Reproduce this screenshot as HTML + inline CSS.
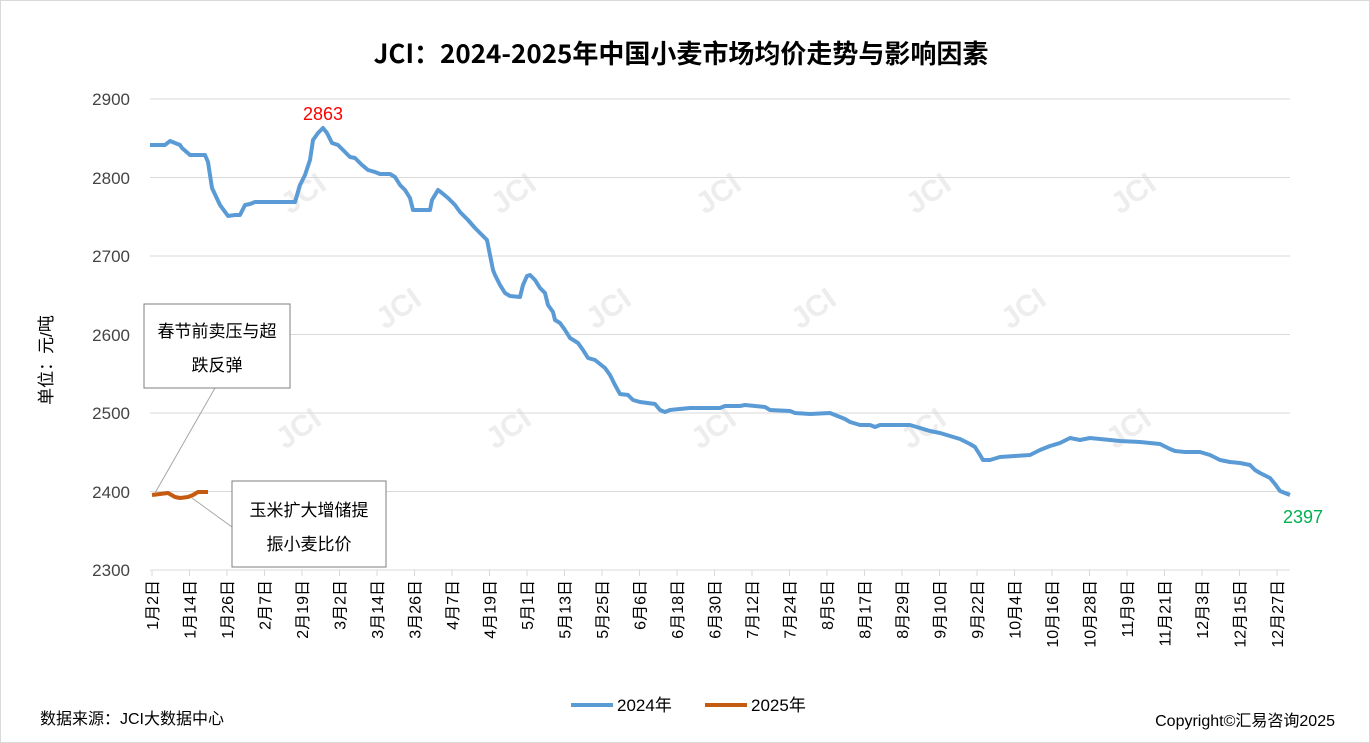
<!DOCTYPE html>
<html><head><meta charset="utf-8"><style>
html,body{margin:0;padding:0;background:#fff}
svg{display:block;font-family:"Liberation Sans","Noto Sans CJK SC",sans-serif}
</style></head><body>
<svg width="1370" height="743" viewBox="0 0 1370 743">
<rect x="0.5" y="0.5" width="1369" height="742" fill="#fff" stroke="#d9d9d9"/>
<text x="681" y="63" text-anchor="middle" font-size="26" font-weight="bold" fill="#000" style="font-family:'Noto Sans CJK SC','Liberation Sans',sans-serif">JCI：2024-2025年中国小麦市场均价走势与影响因素</text>
<g font-size="30" font-weight="bold" fill="#e6e6e6" opacity="0.7">
<g transform="translate(290,215) rotate(-35)"><text>JCI</text></g>
<g transform="translate(500,215) rotate(-35)"><text>JCI</text></g>
<g transform="translate(705,215) rotate(-35)"><text>JCI</text></g>
<g transform="translate(915,215) rotate(-35)"><text>JCI</text></g>
<g transform="translate(1120,215) rotate(-35)"><text>JCI</text></g>
<g transform="translate(385,330) rotate(-35)"><text>JCI</text></g>
<g transform="translate(595,330) rotate(-35)"><text>JCI</text></g>
<g transform="translate(800,330) rotate(-35)"><text>JCI</text></g>
<g transform="translate(1010,330) rotate(-35)"><text>JCI</text></g>
<g transform="translate(285,450) rotate(-35)"><text>JCI</text></g>
<g transform="translate(495,450) rotate(-35)"><text>JCI</text></g>
<g transform="translate(700,450) rotate(-35)"><text>JCI</text></g>
<g transform="translate(910,450) rotate(-35)"><text>JCI</text></g>
<g transform="translate(1115,450) rotate(-35)"><text>JCI</text></g>
</g>
<g stroke="#d9d9d9" stroke-width="1">
<line x1="150" y1="99" x2="1290" y2="99"/><line x1="150" y1="177.5" x2="1290" y2="177.5"/>
<line x1="150" y1="256" x2="1290" y2="256"/><line x1="150" y1="334.5" x2="1290" y2="334.5"/>
<line x1="150" y1="413" x2="1290" y2="413"/><line x1="150" y1="491.5" x2="1290" y2="491.5"/>
<line x1="150" y1="570" x2="1290" y2="570"/>
</g>
<g font-size="17" fill="#444" text-anchor="end">
<text x="130" y="105">2900</text><text x="130" y="184">2800</text><text x="130" y="262">2700</text>
<text x="130" y="341">2600</text><text x="130" y="419">2500</text><text x="130" y="498">2400</text><text x="130" y="576">2300</text>
</g>
<text transform="translate(52,360) rotate(-90)" font-size="17" fill="#000" text-anchor="middle">单位：元/吨</text>
<g id="xl" font-size="16" fill="#000"></g>
<polyline fill="none" stroke="#5b9bd5" stroke-width="4" stroke-linejoin="round" points="150,145 165,145 170,141 175,143 180,145 182,148 190,155 205,155 208,162 212,188 220,205 228,216 235,215 240,215 245,205 250,204 255,202 295,202 300,185 305,175 310,160 313,140 318,133 323,128 327,133 332,143 338,145 345,152 350,157 355,158 362,165 368,170 375,172 380,174 390,174 395,177 400,185 405,190 410,198 413,210 430,210 432,200 438,190 442,193 448,198 455,205 460,212 468,220 475,228 480,233 487,240 490,255 493,270 495,275 500,285 505,293 510,296 520,297 523,285 527,276 530,275 535,280 540,288 545,293 548,305 553,312 555,320 560,323 565,330 570,338 578,343 583,350 588,358 595,360 600,364 605,368 610,375 615,385 620,394 628,395 633,400 640,402 655,404 660,410 665,412 670,410 690,408 720,408 725,406 740,406 745,405 765,407 770,410 790,411 795,413 810,414 830,413 835,415 845,419 850,422 860,425 870,425 875,427 880,425 910,425 920,428 930,431 940,433 950,436 960,439 970,444 975,447 980,455 983,460 990,460 1000,457 1030,455 1040,450 1050,446 1060,443 1070,438 1080,440 1090,438 1110,440 1120,441 1140,442 1160,444 1170,449 1175,451 1185,452 1200,452 1210,455 1220,460 1230,462 1240,463 1250,465 1255,470 1260,473 1270,478 1275,484 1280,491 1290,495"/>
<polyline fill="none" stroke="#c55a11" stroke-width="4" stroke-linejoin="round" points="152,495 160,494 168,493 175,497 180,498 188,497 193,495 198,492 208,492"/>
<text x="323" y="120" font-size="18" fill="#ff0000" text-anchor="middle">2863</text>
<text x="1303" y="523" font-size="18" fill="#00b050" text-anchor="middle">2397</text>
<line x1="155" y1="493" x2="215" y2="388" stroke="#a6a6a6"/>
<line x1="192" y1="498" x2="232" y2="527" stroke="#a6a6a6"/>
<rect x="144" y="304" width="146" height="84" fill="#fff" stroke="#7f7f7f"/>
<text x="217" y="337" font-size="17" text-anchor="middle">春节前卖压与超</text>
<text x="217" y="371" font-size="17" text-anchor="middle">跌反弹</text>
<rect x="232" y="481" width="154" height="86" fill="#fff" stroke="#7f7f7f"/>
<text x="309" y="516" font-size="17" text-anchor="middle">玉米扩大增储提</text>
<text x="309" y="550" font-size="17" text-anchor="middle">振小麦比价</text>
<line x1="571" y1="705" x2="613" y2="705" stroke="#5b9bd5" stroke-width="4"/>
<text x="617" y="711" font-size="17">2024年</text>
<line x1="705" y1="705" x2="747" y2="705" stroke="#c55a11" stroke-width="4"/>
<text x="751" y="711" font-size="17">2025年</text>
<text x="40" y="724" font-size="16">数据来源：JCI大数据中心</text>
<text x="1335" y="726" font-size="16" text-anchor="end">Copyright©汇易咨询2025</text>
</svg>
<script>
var l=["1月2日","1月14日","1月26日","2月7日","2月19日","3月2日","3月14日","3月26日","4月7日","4月19日","5月1日","5月13日","5月25日","6月6日","6月18日","6月30日","7月12日","7月24日","8月5日","8月17日","8月29日","9月10日","9月22日","10月4日","10月16日","10月28日","11月9日","11月21日","12月3日","12月15日","12月27日"];
var g=document.getElementById("xl"),s="";
for(var i=0;i<l.length;i++){var x=152+i*37.5;
s+='<line x1="'+x+'" y1="570" x2="'+x+'" y2="576" stroke="#d9d9d9"/>';
s+='<text transform="translate('+(x+6)+',580) rotate(-90)" text-anchor="end">'+l[i]+'</text>';}
g.innerHTML=s;
</script>
</body></html>
